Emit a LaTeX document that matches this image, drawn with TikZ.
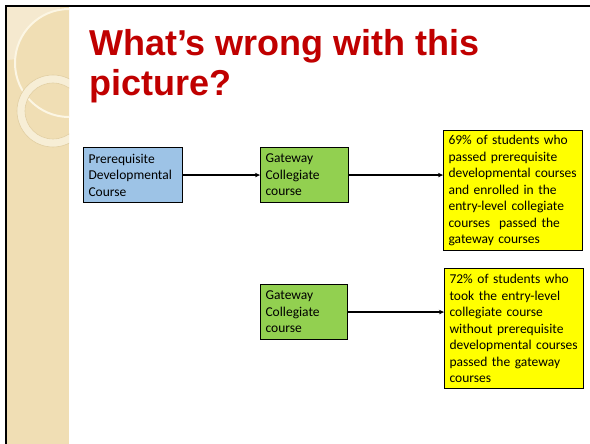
\documentclass[tikz,border=0pt]{standalone}
\usepackage{fontspec}
\setmainfont{Carlito}
\newfontfamily\titlefont{Liberation Sans}
\usetikzlibrary{arrows.meta}
\definecolor{stripbase}{RGB}{240,222,180}
\definecolor{striplight}{RGB}{245,233,207}
\definecolor{arccol}{RGB}{252,246,228}
\definecolor{ringfill}{RGB}{247,238,214}
\definecolor{ringline}{RGB}{226,207,163}
\definecolor{titlered}{RGB}{192,0,0}
\definecolor{boxblue}{RGB}{157,195,230}
\definecolor{boxgreen}{RGB}{146,208,80}
\definecolor{boxyellow}{RGB}{255,255,0}
\begin{document}
\begin{tikzpicture}[x=1pt,y=-1pt,
  box/.style={draw=black, line width=1.1pt, rectangle, anchor=north west,
    inner xsep=5pt, inner ysep=0pt, align=left,
    font=\fontsize{13.5}{16.5}\selectfont},
  titletext/.style={anchor=base west, inner sep=0pt, text=titlered,
    font=\titlefont\bfseries\fontsize{36}{36}\selectfont},
  conn/.style={line width=1.2pt, -{Stealth[length=5pt,width=4.5pt]}},
  frame/.style={line width=2.5pt, black}
]
\useasboundingbox (0,0) rectangle (590,444);
\fill[white] (0,0) rectangle (590,444);
% decorative left strip
\begin{scope}
  \clip (7,7) rectangle (69,444);
  \fill[stripbase] (7,7) rectangle (69,444);
  \fill[striplight] (5,5) circle[radius=55];
  \fill[stripbase] (69,63) circle[radius=54];
  \draw[arccol, line width=2pt] (69,63) circle[radius=54];
  \fill[ringfill, even odd rule] (53,111) circle[radius=36] (53,111) circle[radius=28];
  \draw[ringline, line width=0.6pt] (53,111) circle[radius=36];
  \draw[ringline, line width=0.6pt] (53,111) circle[radius=28];
\end{scope}
% frame
\draw[frame] (6,444) -- (6,6) -- (590,6);
% title
\node[titletext] (t1) at (89,56) {What’s wrong with this};
\node[titletext] (t2) at (89,96) {picture?};
% boxes
\node[box, fill=boxblue, text width=89pt, minimum height=55pt] (pre) at (83,147)
  {Prerequisite\\Developmental\\Course};
\node[box, fill=boxgreen, text width=78pt, minimum height=55pt] (gw1) at (260,147)
  {Gateway\\Collegiate\\course};
\node[box, fill=boxyellow, text width=129pt, minimum height=120pt] (res1) at (443,130)
  {69\% of students who\\passed prerequisite\\developmental courses\\and enrolled in the\\entry-level collegiate\\courses\ \ passed the\\gateway courses};
\node[box, fill=boxgreen, text width=77pt, minimum height=55pt] (gw2) at (260,284)
  {Gateway\\Collegiate\\course};
\node[box, fill=boxyellow, text width=129pt, minimum height=120pt] (res2) at (444,268)
  {72\% of students who\\took the entry-level\\collegiate course\\without prerequisite\\developmental courses\\passed the gateway\\courses};
% connectors
\draw[conn] (pre.east) -- (gw1.west);
\draw[conn] (gw1.east) -- (res1.west |- gw1.east);
\draw[conn] (gw2.east) -- (res2.west |- gw2.east);
\end{tikzpicture}
\end{document}
